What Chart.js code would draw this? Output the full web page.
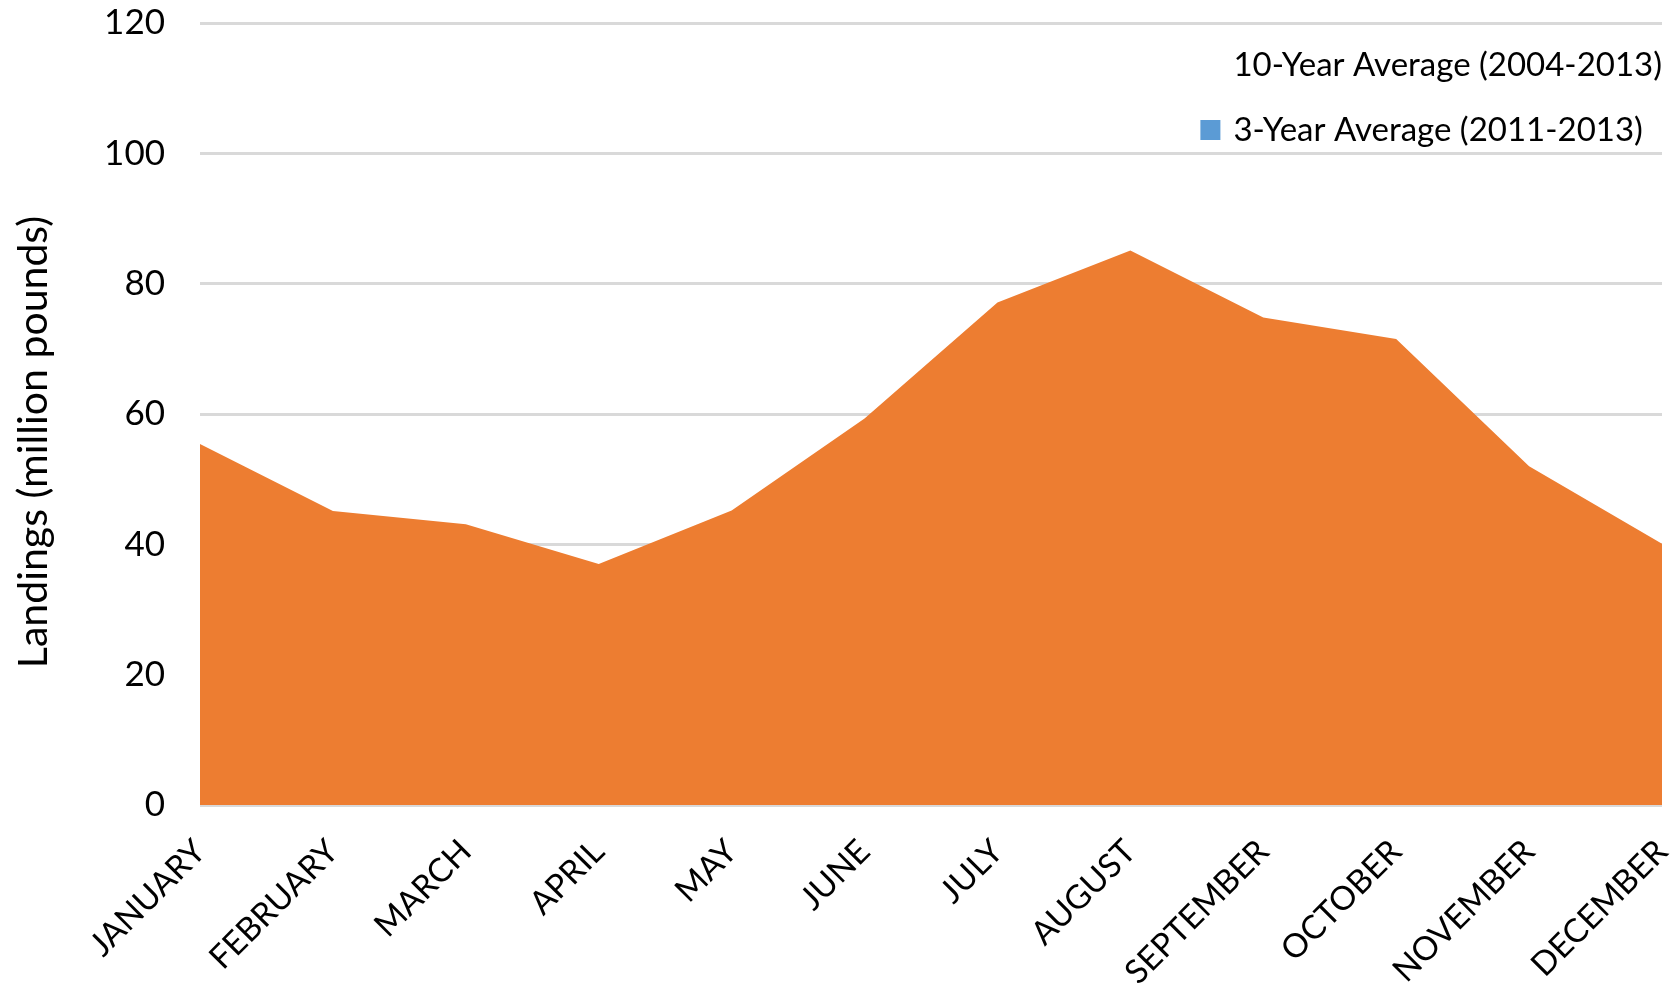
<!DOCTYPE html>
<html>
<head>
<meta charset="utf-8">
<script src="https://cdn.jsdelivr.net/npm/chart.js@4"></script>
<style>
  html, body { margin: 0; padding: 0; background: #fff; }
  #wrap { width: 1680px; height: 992px; }
</style>
</head>
<body>
<div id="wrap"><canvas id="chart" width="1680" height="992"></canvas></div>
<script>
// --- Data ---
const months = ['JANUARY', 'FEBRUARY', 'MARCH', 'APRIL', 'MAY', 'JUNE', 'JULY', 'AUGUST', 'SEPTEMBER', 'OCTOBER', 'NOVEMBER', 'DECEMBER'];
const tenYearAvg = [55.4, 45.1, 43.1, 37.0, 45.2, 59.3, 77.1, 85.1, 74.8, 71.5, 52.0, 40.1];
// hidden behind the orange area in the source, no values readable
const threeYearAvg = [null, null, null, null, null, null, null, null, null, null, null, null];
const yTicks = [0, 20, 40, 60, 80, 100, 120];
const yTitle = 'Landings (million pounds)';

const FONT = 'Lato';

// legend drawn inside the plot, top right, stacked (like the Excel one)
const cornerLegend = {
    id: 'cornerLegend',
    afterDraw(chart) {
        const { ctx, chartArea } = chart;
        ctx.save();
        ctx.font = `33px ${FONT}`;
        ctx.textBaseline = 'middle';
        const items = chart.data.datasets.map(d => ({ text: d.label, box: d.legendBox }));
        const maxW = Math.max(...items.map(it => ctx.measureText(it.text).width));
        const textX = chartArea.right - maxW;
        items.forEach((it, i) => {
            const y = 65 + i * 65;
            if (it.box) {
                ctx.fillStyle = it.box;
                ctx.fillRect(textX - 33, y - 10, 20, 20);
            }
            ctx.fillStyle = '#000';
            ctx.fillText(it.text, textX, y);
        });
        ctx.restore();
    }
};

// y axis title, sits a bit below the plot centre in the original
const sideTitle = {
    id: 'sideTitle',
    afterDraw(chart) {
        const { ctx, chartArea } = chart;
        ctx.save();
        ctx.translate(34, (chartArea.top + chartArea.bottom) / 2 + 28);
        ctx.rotate(-Math.PI / 2);
        ctx.font = `41px ${FONT}`;
        ctx.textAlign = 'center';
        ctx.textBaseline = 'middle';
        ctx.fillStyle = '#000';
        ctx.fillText(yTitle, 0, 0);
        ctx.restore();
    }
};

new Chart(document.getElementById('chart').getContext('2d'), {
    type: 'line',
    data: {
        labels: months,
        datasets: [
            { label: '10-Year Average (2004-2013)', data: tenYearAvg, backgroundColor: '#ED7D31', borderWidth: 0, fill: 'origin', pointRadius: 0, tension: 0, legendBox: null },
            { label: '3-Year Average (2011-2013)', data: threeYearAvg, backgroundColor: '#5B9BD5', borderWidth: 0, fill: 'origin', pointRadius: 0, tension: 0, legendBox: '#5B9BD5' }
        ]
    },
    options: {
        responsive: false,
        animation: false,
        layout: { padding: { left: 0, right: 18, top: 23, bottom: 0 } },
        plugins: { legend: { display: false }, tooltip: { enabled: false } },
        scales: {
            x: {
                offset: false,
                grid: { display: false, drawTicks: false },
                border: { display: false },
                ticks: { autoSkip: false, minRotation: 45, maxRotation: 45, padding: 27, color: '#000', font: { family: FONT, size: 33 } },
                afterFit: s => { s.height = 187; s.paddingLeft = 0; s.paddingRight = 0; }
            },
            y: {
                min: 0, max: 120,
                afterBuildTicks: axis => { axis.ticks = yTicks.map(v => ({ value: v })); },
                grid: { color: '#D9D9D9', lineWidth: 3, drawTicks: false },
                border: { display: false },
                ticks: { padding: 35, color: '#000', font: { family: FONT, size: 35 } },
                afterFit: s => { s.width = 200; s.paddingTop = 0; s.paddingBottom = 0; }
            }
        }
    },
    plugins: [cornerLegend, sideTitle]
});
</script>
</body>
</html>
